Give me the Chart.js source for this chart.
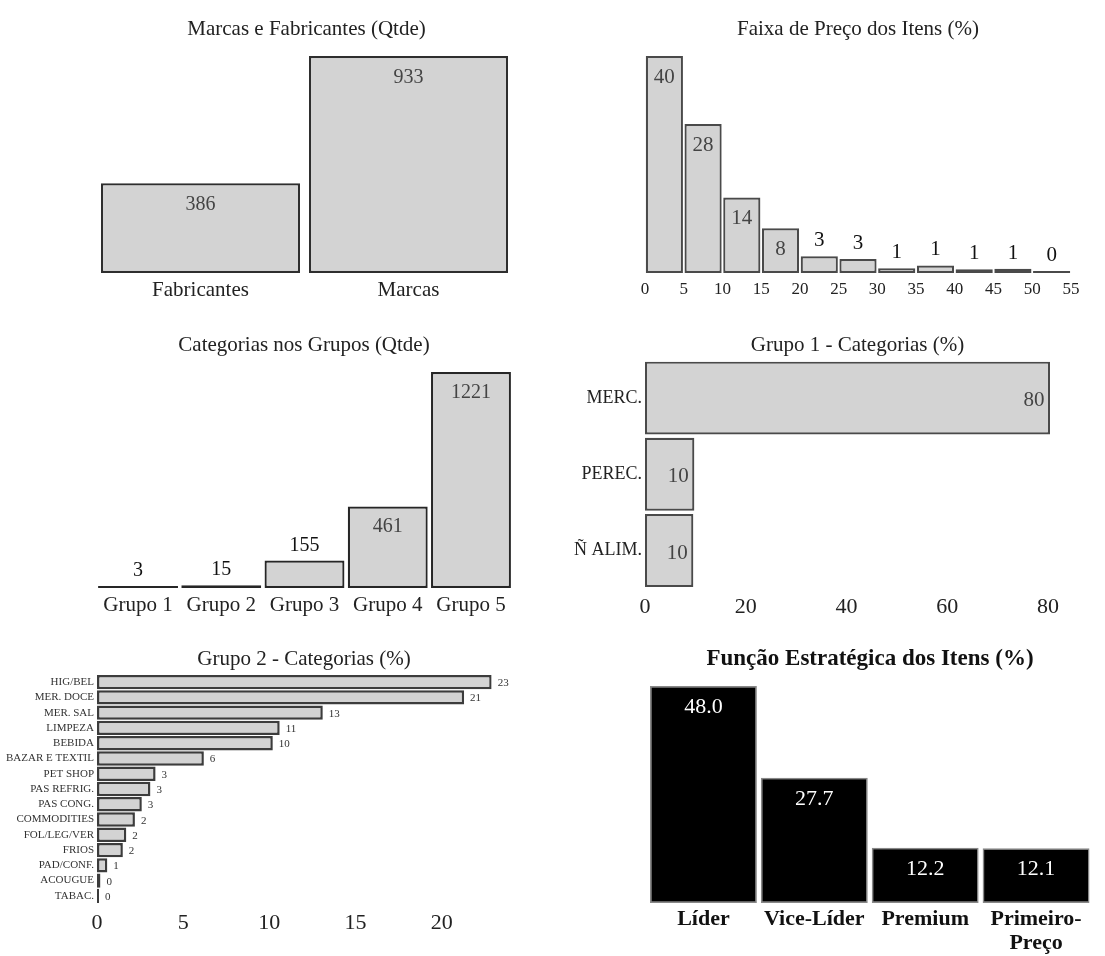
<!DOCTYPE html>
<html>
<head>
<meta charset="utf-8">
<title>Perfil do Sortimento</title>
<script src="https://cdn.jsdelivr.net/npm/chart.js@4.4.1/dist/chart.umd.min.js"></script>
<style>
  html, body { margin: 0; padding: 0; background: #ffffff; }
  #page { position: relative; width: 1105px; height: 956px; overflow: hidden; background: #ffffff; }
  #page canvas { position: absolute; left: 0; top: 0; }
</style>
</head>
<body>
<div id="page">
  <canvas id="marcas" width="1105" height="956"></canvas>
  <canvas id="faixa" width="1105" height="956"></canvas>
  <canvas id="grupos" width="1105" height="956"></canvas>
  <canvas id="grupo1" width="1105" height="956"></canvas>
  <canvas id="grupo2" width="1105" height="956"></canvas>
  <canvas id="funcao" width="1105" height="956"></canvas>
</div>
<script>
// ---- data ----
const marcasLabels = ['Fabricantes', 'Marcas'];
const marcasValues = [386, 933];

const faixaEdges = [0, 5, 10, 15, 20, 25, 30, 35, 40, 45, 50, 55];
const faixaValues = [40.2, 27.6, 14.0, 8.3, 3.1, 2.6, 0.9, 1.4, 0.7, 0.8, 0.3];

const gruposLabels = ['Grupo 1', 'Grupo 2', 'Grupo 3', 'Grupo 4', 'Grupo 5'];
const gruposValues = [3, 15, 155, 461, 1221];

const grupo1Labels = ['MERC.', 'PEREC.', 'Ñ ALIM.'];
const grupo1Values = [80.4, 9.8, 9.6];

const grupo2Labels = ['HIG/BEL', 'MER. DOCE', 'MER. SAL', 'LIMPEZA', 'BEBIDA', 'BAZAR E TEXTIL',
  'PET SHOP', 'PAS REFRIG.', 'PAS CONG.', 'COMMODITIES', 'FOL/LEG/VER', 'FRIOS',
  'PAD/CONF.', 'ACOUGUE', 'TABAC.'];
const grupo2Values = [22.9, 21.3, 13.1, 10.6, 10.2, 6.2, 3.4, 3.1, 2.6, 2.2, 1.7, 1.5, 0.6, 0.2, 0.02];

const funcaoLabels = ['Líder', 'Vice-Líder', 'Premium', ['Primeiro-', 'Preço']];
const funcaoValues = [48.0, 27.7, 12.2, 12.1];

const titles = [
  'Marcas e Fabricantes (Qtde)',
  'Faixa de Preço dos Itens (%)',
  'Categorias nos Grupos (Qtde)',
  'Grupo 1 - Categorias (%)',
  'Grupo 2 - Categorias (%)',
  'Função Estratégica dos Itens (%)'
];

// ---- drawing setup ----
const W = 1105, H = 956;
const SERIF = "'Liberation Serif', 'Times New Roman', Times, serif";
Chart.defaults.font.family = SERIF;
Chart.defaults.devicePixelRatio = 1;

const GRAY_FILL = '#d3d3d3';

// panel heading drawn above each plot
const panelTitle = {
  id: 'panelTitle',
  afterDraw(chart, args, opts) {
    if (!opts || !opts.text) return;
    const ctx = chart.ctx;
    ctx.save();
    ctx.font = `${opts.weight || 'normal'} ${opts.size}px ${SERIF}`;
    ctx.fillStyle = opts.color || '#222';
    ctx.textAlign = 'center';
    ctx.textBaseline = 'alphabetic';
    ctx.fillText(opts.text, opts.x, opts.y);
    ctx.restore();
  }
};

// value labels on the bars (inside the end when it fits, otherwise outside)
const barValueLabels = {
  id: 'barValueLabels',
  afterDatasetsDraw(chart, args, opts) {
    if (!opts || !opts.size) return;
    const ctx = chart.ctx;
    const horizontal = chart.options.indexAxis === 'y';
    chart.data.datasets.forEach((ds, di) => {
      const meta = chart.getDatasetMeta(di);
      meta.data.forEach((el, i) => {
        const raw = ds.data[i];
        const value = (raw !== null && typeof raw === 'object') ? (horizontal ? raw.x : raw.y) : raw;
        const text = value.toFixed(opts.decimals || 0);
        ctx.save();
        ctx.font = `${opts.weight || 'normal'} ${opts.size}px ${SERIF}`;
        ctx.textBaseline = 'alphabetic';
        if (!horizontal) {
          const top = Math.min(el.y, el.base);
          const h = Math.abs(el.base - el.y);
          const inside = opts.mode === 'inside' || (opts.mode === 'auto' && h >= opts.minInside);
          ctx.textAlign = 'center';
          ctx.fillStyle = inside ? opts.insideColor : opts.outsideColor;
          ctx.fillText(text, el.x, inside ? top + opts.insideOffset : top - opts.outsideOffset);
        } else {
          const end = Math.max(el.x, el.base);
          const inside = opts.mode === 'inside';
          ctx.textAlign = inside ? 'right' : 'left';
          ctx.fillStyle = inside ? opts.insideColor : opts.outsideColor;
          ctx.fillText(text, inside ? end - opts.insideOffset : end + opts.outsideOffset, el.y + opts.baselineShift);
        }
        ctx.restore();
      });
    });
  }
};

Chart.register(panelTitle, barValueLabels);

function pad(area, axisH, axisW) {
  return {
    left: area.L - (axisW || 0),
    right: W - area.R,
    top: area.T,
    bottom: H - area.B - (axisH || 0)
  };
}

function baseOptions(area, axisH, axisW, title, labels) {
  return {
    responsive: false,
    animation: false,
    devicePixelRatio: 1,
    events: [],
    layout: { padding: pad(area, axisH, axisW) },
    plugins: {
      legend: { display: false },
      tooltip: { enabled: false },
      title: { display: false },
      panelTitle: title,
      barValueLabels: labels
    }
  };
}

function hiddenGrid() {
  return { display: false, drawTicks: false };
}

// ---- Marcas e Fabricantes ----
(function () {
  const area = { L: 96.5, R: 512.5, T: 56, B: 273 };
  const XH = 40;
  const opts = baseOptions(area, XH, 0,
    { text: titles[0], x: 306.5, y: 35, size: 21, color: '#222' },
    { size: 20, mode: 'inside', insideColor: '#444', outsideColor: '#111', insideOffset: 27, outsideOffset: 10 });
  opts.scales = {
    x: {
      type: 'category', offset: true,
      grid: hiddenGrid(), border: { display: false },
      ticks: { color: '#222', font: { size: 21 }, padding: 5, autoSkip: false, maxRotation: 0 },
      afterFit: s => { s.height = XH; }
    },
    y: { display: false, min: 0, max: Math.max(...marcasValues) }
  };
  new Chart(document.getElementById('marcas'), {
    type: 'bar',
    data: {
      labels: marcasLabels,
      datasets: [{
        data: marcasValues, backgroundColor: GRAY_FILL, borderColor: '#2e2e2e', borderWidth: 2.2,
        borderSkipped: false, categoryPercentage: 1, barPercentage: 0.957
      }]
    },
    options: opts
  });
})();

// ---- Faixa de Preço dos Itens ----
(function () {
  const area = { L: 645, R: 1071, T: 56, B: 273 };
  const XH = 40;
  const points = faixaValues.map((v, i) => ({ x: (faixaEdges[i] + faixaEdges[i + 1]) / 2, y: v }));
  const opts = baseOptions(area, XH, 0,
    { text: titles[1], x: 858, y: 35, size: 21, color: '#222' },
    { size: 21, mode: 'auto', minInside: 36, insideColor: '#444', outsideColor: '#111', insideOffset: 27, outsideOffset: 10 });
  opts.scales = {
    x: {
      type: 'linear', offset: false,
      min: faixaEdges[0], max: faixaEdges[faixaEdges.length - 1],
      grid: hiddenGrid(), border: { display: false },
      ticks: { stepSize: 5, maxTicksLimit: 20, autoSkip: false, maxRotation: 0, color: '#222', font: { size: 17 }, padding: 6 },
      afterFit: s => { s.height = XH; }
    },
    y: { display: false, min: 0, max: Math.max(...faixaValues) }
  };
  new Chart(document.getElementById('faixa'), {
    type: 'bar',
    data: {
      datasets: [{
        data: points, backgroundColor: GRAY_FILL, borderColor: '#4a4a4a', borderWidth: 2.2,
        borderSkipped: false, categoryPercentage: 1, barPercentage: 0.96, minBarLength: 2
      }]
    },
    options: opts
  });
})();

// ---- Categorias nos Grupos ----
(function () {
  const area = { L: 96.4, R: 512.6, T: 372, B: 588 };
  const XH = 40;
  const opts = baseOptions(area, XH, 0,
    { text: titles[2], x: 304, y: 350.5, size: 21, color: '#222' },
    { size: 20, mode: 'auto', minInside: 36, insideColor: '#444', outsideColor: '#111', insideOffset: 26, outsideOffset: 10 });
  opts.scales = {
    x: {
      type: 'category', offset: true,
      grid: hiddenGrid(), border: { display: false },
      ticks: { color: '#222', font: { size: 21 }, padding: 5, autoSkip: false, maxRotation: 0 },
      afterFit: s => { s.height = XH; }
    },
    y: { display: false, min: 0, max: Math.max(...gruposValues) }
  };
  new Chart(document.getElementById('grupos'), {
    type: 'bar',
    data: {
      labels: gruposLabels,
      datasets: [{
        data: gruposValues, backgroundColor: GRAY_FILL, borderColor: '#262626', borderWidth: 2.2,
        borderSkipped: false, categoryPercentage: 1, barPercentage: 0.96, minBarLength: 2
      }]
    },
    options: opts
  });
})();

// ---- Grupo 1 - Categorias ----
(function () {
  const area = { L: 645, R: 1050, T: 360, B: 588.6 };
  const XH = 40, YW = 110;
  const opts = baseOptions(area, XH, YW,
    { text: titles[3], x: 857.5, y: 350.5, size: 21, color: '#222' },
    { size: 21, mode: 'inside', insideColor: '#444', outsideColor: '#111', insideOffset: 5.5, baselineShift: 8 });
  opts.indexAxis = 'y';
  opts.scales = {
    y: {
      type: 'category', offset: true,
      grid: hiddenGrid(), border: { display: false },
      ticks: { color: '#222', font: { size: 18 }, padding: 3, autoSkip: false },
      afterFit: s => { s.width = YW; }
    },
    x: {
      type: 'linear', min: 0, max: Math.max(...grupo1Values),
      grid: hiddenGrid(), border: { display: false },
      ticks: { stepSize: 20, includeBounds: false, color: '#222', font: { size: 22 }, padding: 5.5, maxRotation: 0 },
      afterFit: s => { s.height = XH; }
    }
  };
  new Chart(document.getElementById('grupo1'), {
    type: 'bar',
    data: {
      labels: grupo1Labels,
      datasets: [{
        data: grupo1Values, backgroundColor: GRAY_FILL, borderColor: '#4a4a4a', borderWidth: 2.2,
        borderSkipped: false, categoryPercentage: 1, barPercentage: 0.957
      }]
    },
    options: opts
  });
})();

// ---- Grupo 2 - Categorias ----
(function () {
  const area = { L: 97, R: 491.7, T: 674.5, B: 903.5 };
  const XH = 40, YW = 96;
  const opts = baseOptions(area, XH, YW,
    { text: titles[4], x: 304, y: 665, size: 21, color: '#222' },
    { size: 11, mode: 'outside', insideColor: '#444', outsideColor: '#333', outsideOffset: 6, baselineShift: 4 });
  opts.indexAxis = 'y';
  opts.scales = {
    y: {
      type: 'category', offset: true,
      grid: hiddenGrid(), border: { display: false },
      ticks: { color: '#333', font: { size: 11 }, padding: 3, autoSkip: false },
      afterFit: s => { s.width = YW; }
    },
    x: {
      type: 'linear', min: 0, max: Math.max(...grupo2Values),
      grid: hiddenGrid(), border: { display: false },
      ticks: { stepSize: 5, includeBounds: false, color: '#222', font: { size: 22 }, padding: 6.5, maxRotation: 0 },
      afterFit: s => { s.height = XH; }
    }
  };
  new Chart(document.getElementById('grupo2'), {
    type: 'bar',
    data: {
      labels: grupo2Labels,
      datasets: [{
        data: grupo2Values, backgroundColor: GRAY_FILL, borderColor: '#3c3c3c', borderWidth: 2.5,
        borderSkipped: false, categoryPercentage: 1, barPercentage: 0.94, minBarLength: 2
      }]
    },
    options: opts
  });
})();

// ---- Função Estratégica dos Itens ----
(function () {
  const area = { L: 648, R: 1091.5, T: 686, B: 903 };
  const XH = 60;
  const opts = baseOptions(area, XH, 0,
    { text: titles[5], x: 870, y: 665, size: 23, weight: 'bold', color: '#111' },
    { size: 22, mode: 'inside', decimals: 1, insideColor: '#ffffff', outsideColor: '#111', insideOffset: 27, outsideOffset: 10 });
  opts.scales = {
    x: {
      type: 'category', offset: true,
      grid: hiddenGrid(), border: { display: false },
      ticks: { color: '#111', font: { size: 22, weight: 'bold', lineHeight: 1.1 }, padding: 4, autoSkip: false, maxRotation: 0 },
      afterFit: s => { s.height = XH; }
    },
    y: { display: false, min: 0, max: Math.max(...funcaoValues) }
  };
  new Chart(document.getElementById('funcao'), {
    type: 'bar',
    data: {
      labels: funcaoLabels,
      datasets: [{
        data: funcaoValues, backgroundColor: '#000000', borderColor: '#888', borderWidth: 1.5,
        borderSkipped: false, categoryPercentage: 1, barPercentage: 0.964
      }]
    },
    options: opts
  });
})();
</script>
</body>
</html>
